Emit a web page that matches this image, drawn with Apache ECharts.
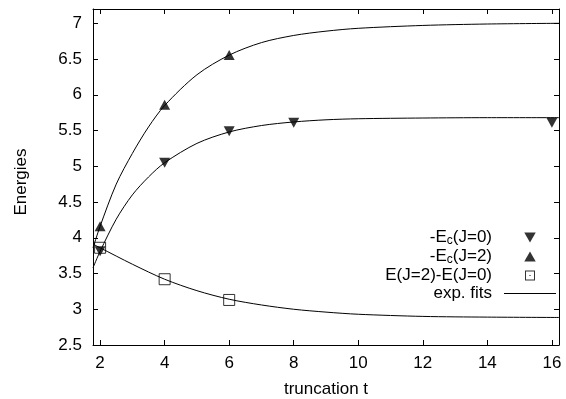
<!DOCTYPE html>
<html>
<head>
<meta charset="utf-8">
<script src="https://cdn.jsdelivr.net/npm/echarts@6/dist/echarts.min.js"></script>
<style>
html,body{margin:0;padding:0;background:#fff;}
#chart{width:566px;height:399px;}
</style>
</head>
<body>
<div id="chart"></div>
<script>
// ---- data ----
const xTicks = [2, 4, 6, 8, 10, 12, 14, 16];
const yTicks = [2.5, 3, 3.5, 4, 4.5, 5, 5.5, 6, 6.5, 7];

const ecJ0 = [[2, 3.81], [4, 5.05], [6, 5.49], [8, 5.61], [16, 5.61]];
const ecJ2 = [[2, 4.16], [4, 5.86], [6, 6.555]];
const eDiff = [[2, 3.86], [4, 3.42], [6, 3.13]];

// exp. fit curves
const fitJ0 = [[1.78, 3.58], [2, 3.81], [2.5, 4.26], [3, 4.60], [3.5, 4.85], [4, 5.05], [5, 5.32], [6, 5.48], [7, 5.57], [8, 5.62], [9, 5.65], [10, 5.665], [12, 5.675], [14, 5.68], [16.22, 5.68]];
const fitJ2 = [[1.78, 3.86], [2, 4.16], [2.5, 4.75], [3, 5.18], [3.5, 5.55], [4, 5.85], [5, 6.28], [6, 6.555], [7, 6.73], [8, 6.83], [9, 6.89], [10, 6.93], [12, 6.97], [14, 6.99], [16.22, 7.0]];
const fitDiff = [[1.78, 3.91], [2, 3.86], [3, 3.63], [4, 3.42], [5, 3.26], [6, 3.14], [7, 3.06], [8, 3.0], [9, 2.96], [10, 2.93], [12, 2.90], [14, 2.89], [16.22, 2.885]];

const names = ['-Ec(J=0)', '-Ec(J=2)', 'E(J=2)-E(J=0)', 'exp. fits'];
const legendRich = {
  '-Ec(J=0)': '-E{sub|c}(J=0)',
  '-Ec(J=2)': '-E{sub|c}(J=2)',
  'E(J=2)-E(J=0)': 'E(J=2)-E(J=0)',
  'exp. fits': 'exp. fits'
};

const FONT = 'Liberation Sans, Arial, Helvetica, sans-serif';
const FS = 17;

const chart = echarts.init(document.getElementById('chart'), null, {renderer: 'canvas'});

const axisCommon = {
  type: 'value',
  axisLine: {show: true, onZero: false, lineStyle: {color: '#000', width: 1}},
  axisTick: {show: true, inside: true, length: 5, lineStyle: {color: '#000', width: 1}},
  splitLine: {show: false}
};

const option = {
  backgroundColor: '#fff',
  animation: false,
  grid: {left: 93, right: 7, top: 9, bottom: 54, containLabel: false, outerBoundsMode: 'none'},
  xAxis: [
    Object.assign({}, axisCommon, {
      position: 'bottom', min: 1.78, max: 16.22,
      axisTick: Object.assign({}, axisCommon.axisTick, {customValues: xTicks}),
      axisLabel: {show: true, customValues: xTicks, color: '#000', fontFamily: FONT, fontSize: FS, margin: 10},
      name: 'truncation t', nameLocation: 'middle', nameGap: 36,
      nameTextStyle: {color: '#000', fontFamily: FONT, fontSize: FS}
    }),
    Object.assign({}, axisCommon, {
      position: 'top', min: 1.78, max: 16.22,
      axisTick: Object.assign({}, axisCommon.axisTick, {customValues: xTicks}),
      axisLabel: {show: false}
    })
  ],
  yAxis: [
    Object.assign({}, axisCommon, {
      position: 'left', min: 2.5, max: 7.2,
      axisTick: Object.assign({}, axisCommon.axisTick, {customValues: yTicks}),
      axisLabel: {show: true, customValues: yTicks, color: '#000', fontFamily: FONT, fontSize: FS, margin: 11},
      name: 'Energies', nameLocation: 'middle', nameGap: 63, nameRotate: 90,
      nameTextStyle: {color: '#000', fontFamily: FONT, fontSize: FS, padding: [0, 10, 0, 0]}
    }),
    Object.assign({}, axisCommon, {
      position: 'right', min: 2.5, max: 7.2,
      axisTick: Object.assign({}, axisCommon.axisTick, {customValues: yTicks}),
      axisLabel: {show: false}
    })
  ],
  legend: {
    orient: 'vertical',
    align: 'right',
    right: 10,
    top: 229,
    itemWidth: 52,
    itemHeight: 10,
    itemGap: 1,
    padding: 0,
    selectedMode: false,
    textStyle: {
      color: '#000', fontFamily: FONT, fontSize: FS, lineHeight: 17, padding: [0, 7, 0, 0],
      rich: {sub: {fontSize: 12, fontFamily: FONT, color: '#000', lineHeight: 8, padding: [6, 0, 0, 0], verticalAlign: 'top'}}
    },
    formatter: function (n) { return legendRich[n] || n; },
    data: [
      {name: names[0], icon: 'path://M0,0 L10,0 L5,8.7 Z', itemStyle: {color: '#000', borderWidth: 0}},
      {name: names[1], icon: 'path://M5,0 L10,8.7 L0,8.7 Z', itemStyle: {color: '#000', borderWidth: 0}},
      {name: names[2], icon: 'path://M0,0 L10,0 L10,10 L0,10 Z M1,1 L1,9 L9,9 L9,1 Z M4.4,4.4 L5.6,4.4 L5.6,5.6 L4.4,5.6 Z', itemStyle: {color: '#000', borderWidth: 0}},
      {name: names[3], icon: 'path://M0,0 L52,0 L52,1 L0,1 Z', itemStyle: {color: '#000', borderWidth: 0}}
    ]
  },
  series: [
    {
      name: names[3], type: 'line', data: fitJ2, smooth: 0.3, symbol: 'none',
      lineStyle: {color: '#000', width: 1}, itemStyle: {color: '#000'}, z: 2
    },
    {
      name: names[3], type: 'line', data: fitJ0, smooth: 0.3, symbol: 'none',
      lineStyle: {color: '#000', width: 1}, itemStyle: {color: '#000'}, z: 2
    },
    {
      name: names[3], type: 'line', data: fitDiff, smooth: 0.3, symbol: 'none',
      lineStyle: {color: '#000', width: 1}, itemStyle: {color: '#000'}, z: 2
    },
    {
      name: names[0], type: 'scatter', data: ecJ0, symbol: 'triangle', symbolRotate: 180,
      symbolSize: [11, 10], itemStyle: {color: '#000'}, z: 3
    },
    {
      name: names[1], type: 'scatter', data: ecJ2, symbol: 'triangle',
      symbolSize: [11, 10], itemStyle: {color: '#000'}, z: 3
    },
    {
      name: names[2], type: 'scatter', data: eDiff, symbol: 'rect',
      symbolSize: 11, itemStyle: {color: 'rgba(255,255,255,0)', borderColor: '#000', borderWidth: 1}, z: 3
    }
  ]
};

chart.setOption(option);
</script>
</body>
</html>
